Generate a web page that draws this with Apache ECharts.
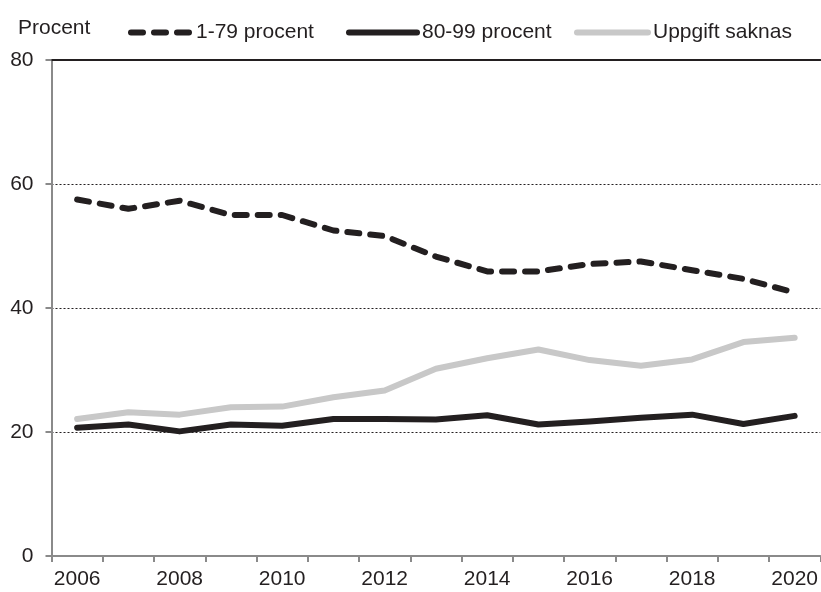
<!DOCTYPE html>
<html>
<head>
<meta charset="utf-8">
<script src="https://cdn.jsdelivr.net/npm/echarts@6/dist/echarts.min.js"></script>
<style>
html,body{margin:0;padding:0;background:#fff;}
#chart{width:821px;height:592px;}
</style>
</head>
<body>
<div id="chart"></div>
<script>
var years = ['2006','2007','2008','2009','2010','2011','2012','2013','2014','2015','2016','2017','2018','2019','2020'];
var s1_79 = [57.5, 56.0, 57.3, 55.0, 55.0, 52.5, 51.6, 48.3, 45.9, 45.9, 47.1, 47.5, 46.1, 44.7, 42.5];
var s80_99 = [20.7, 21.2, 20.1, 21.2, 21.0, 22.1, 22.1, 22.0, 22.7, 21.2, 21.7, 22.3, 22.8, 21.3, 22.6];
var sMissing = [22.1, 23.2, 22.8, 24.0, 24.1, 25.6, 26.7, 30.2, 31.9, 33.3, 31.6, 30.7, 31.7, 34.5, 35.2];
var seriesNames = ['1-79 procent', '80-99 procent', 'Uppgift saknas'];
var yTicks = [0, 20, 40, 60, 80];

var FONT = '"Liberation Sans", Arial, sans-serif';
var DARK = '#231f20';
var GREY = '#c8c8c8';
var AXIS = '#8a8a8a';

function mkLegend(name, left, w) {
  return {
    left: left, top: 17, itemWidth: w, itemHeight: 14, itemGap: 0,
    selectedMode: false,
    itemStyle: {color: 'rgba(0,0,0,0)', borderWidth: 0, opacity: 0},
    lineStyle: {width: 6, cap: 'round'},
    textStyle: {fontFamily: FONT, fontSize: 21, color: DARK},
    data: [name]
  };
}

var chart = echarts.init(document.getElementById('chart'), null, {renderer: 'canvas'});
chart.setOption({
  animation: false,
  backgroundColor: '#fff',
  textStyle: {fontFamily: FONT},
  title: {
    text: 'Procent', left: 13, top: 13,
    textStyle: {fontFamily: FONT, fontSize: 21, fontWeight: 'normal', color: DARK}
  },
  legend: [
    mkLegend(seriesNames[0], 123, 60),
    mkLegend(seriesNames[1], 341, 68),
    mkLegend(seriesNames[2], 569, 71)
  ],
  grid: {left: 51.5, right: 0, top: 60, bottom: 36, containLabel: false},
  xAxis: [{
    type: 'category', data: years, boundaryGap: true,
    axisLine: {lineStyle: {color: AXIS, width: 2}},
    axisTick: {show: true, interval: 0, length: 6, lineStyle: {color: AXIS, width: 2}},
    axisLabel: {interval: 1, margin: 13, fontFamily: FONT, fontSize: 21, color: DARK},
    splitLine: {show: false}
  }, {
    type: 'category', data: years, position: 'top', boundaryGap: true,
    axisLine: {show: true, lineStyle: {color: DARK, width: 2}},
    axisTick: {show: false}, axisLabel: {show: false}, splitLine: {show: false}
  }],
  yAxis: {
    type: 'value', min: yTicks[0], max: yTicks[yTicks.length - 1], interval: 20,
    axisLine: {show: true, lineStyle: {color: AXIS, width: 2}},
    axisTick: {show: true, length: 6, lineStyle: {color: AXIS, width: 2}},
    axisLabel: {margin: 18, fontFamily: FONT, fontSize: 21, color: DARK},
    splitLine: {show: true, lineStyle: {color: DARK, width: 1, type: [2, 2]}}
  },
  series: [
    {name: seriesNames[0], type: 'line', data: s1_79, symbol: 'none', z: 3,
     lineStyle: {color: DARK, width: 6, type: [12, 11], cap: 'round', join: 'round'}, itemStyle: {color: DARK}},
    {name: seriesNames[1], type: 'line', data: s80_99, symbol: 'none', z: 3,
     lineStyle: {color: DARK, width: 6, cap: 'round', join: 'round'}, itemStyle: {color: DARK}},
    {name: seriesNames[2], type: 'line', data: sMissing, symbol: 'none', z: 2,
     lineStyle: {color: GREY, width: 6, cap: 'round', join: 'round'}, itemStyle: {color: GREY}}
  ]
});
</script>
</body>
</html>
